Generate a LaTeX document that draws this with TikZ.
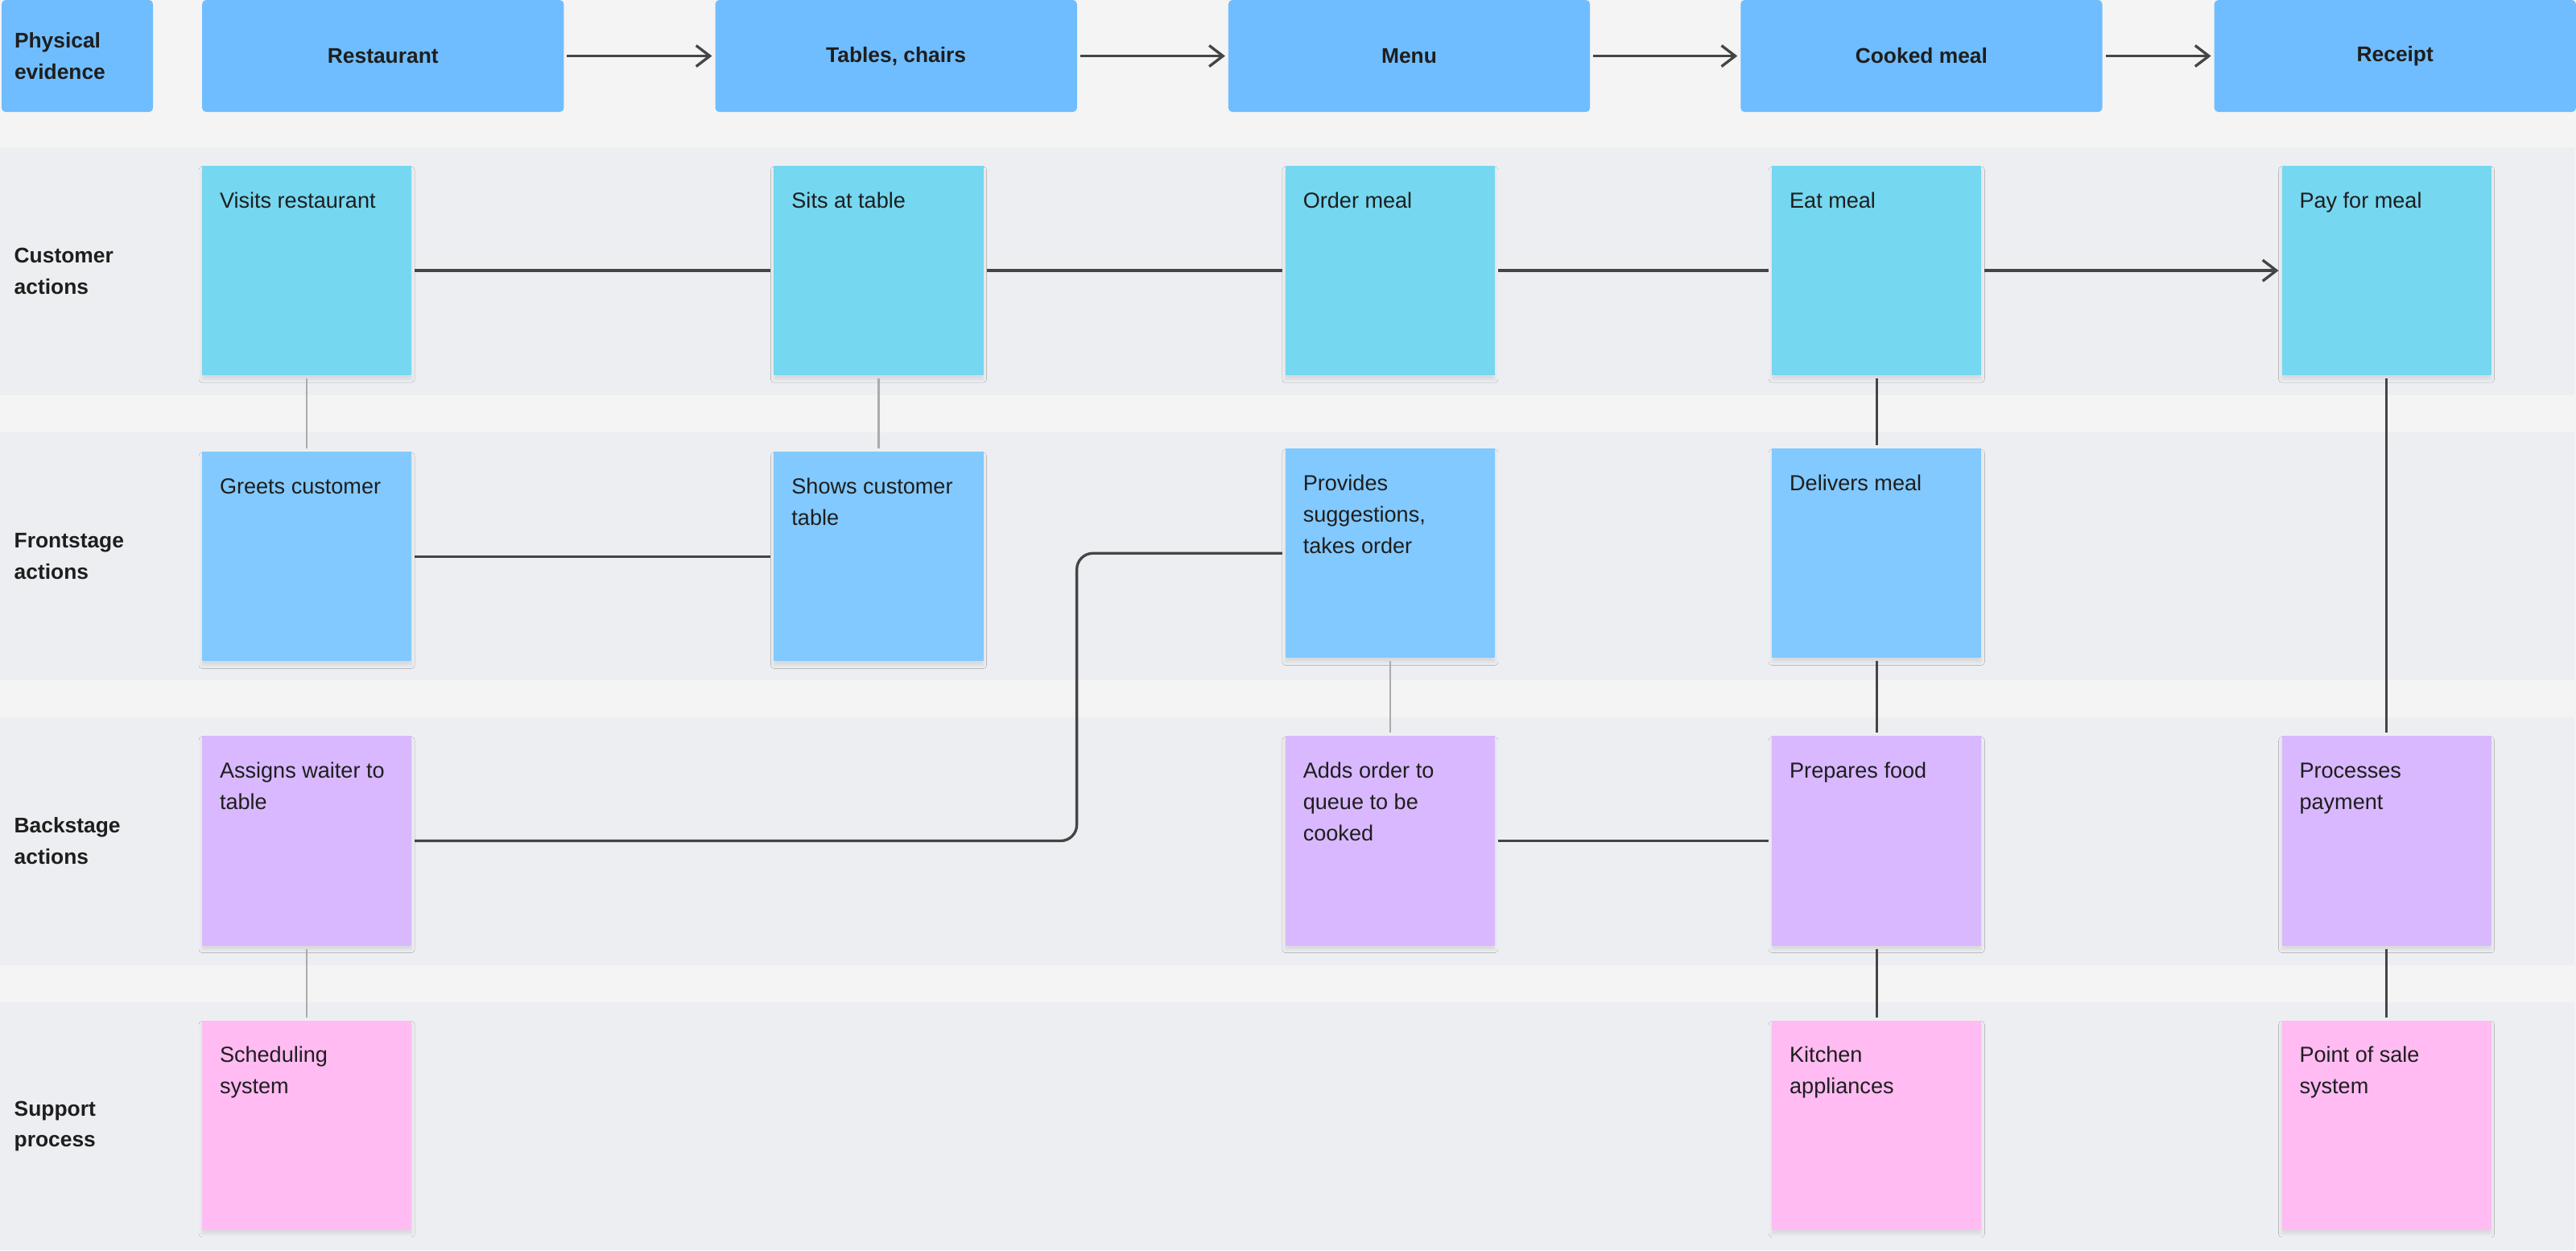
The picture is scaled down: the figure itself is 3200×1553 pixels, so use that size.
\documentclass[tikz,border=0pt]{standalone}
\usepackage{fontspec}
\setmainfont{Liberation Sans}
\usetikzlibrary{arrows.meta,positioning,shadows.blur}

\definecolor{bgcol}{HTML}{F4F4F4}
\definecolor{lanecol}{HTML}{EDEEF1}
\definecolor{evcol}{HTML}{6FBDFF}
\definecolor{custcol}{HTML}{76D7F0}
\definecolor{frontcol}{HTML}{82C9FF}
\definecolor{backcol}{HTML}{D9B8FF}
\definecolor{suppcol}{HTML}{FFBBF2}
\definecolor{linecol}{HTML}{454545}
\definecolor{faintcol}{HTML}{ABABAB}
\definecolor{txtcol}{HTML}{1E1E1E}

\newcommand{\notetxt}[1]{\parbox[c][2.6cm][t]{2.6cm}{\raggedright\setlength{\leftskip}{0.22cm}\rule{0pt}{0.52cm}#1}}

\begin{document}
\begin{tikzpicture}[x=0.01cm,y=0.01cm,>={Straight Barb[length=0.17cm,width=0.26cm]},node distance=0.93cm]
		\tikzstyle{evbox}=[fill=evcol,rounded corners=0.05cm,minimum width=4.49cm,minimum height=1.39cm,inner sep=0pt,outer sep=0pt,text=txtcol,font=\bfseries\fontsize{7.5pt}{11.07pt}\selectfont]
		\tikzstyle{note}=[inner sep=0pt,outer sep=0pt,minimum size=2.6cm,text=txtcol,font=\fontsize{7.7pt}{11.07pt}\selectfont,
			blur shadow={shadow xshift=0pt,shadow yshift=-0.05cm,shadow blur radius=0.04cm,shadow opacity=9}]
		\tikzstyle{cust}=[note,fill=custcol]
		\tikzstyle{front}=[note,fill=frontcol]
		\tikzstyle{back}=[note,fill=backcol]
		\tikzstyle{supp}=[note,fill=suppcol]
		\tikzstyle{lanelbl}=[anchor=west,align=left,inner sep=0pt,text=txtcol,font=\bfseries\fontsize{7.5pt}{11.07pt}\selectfont]
		\tikzstyle{link}=[draw=linecol,line width=0.95pt,shorten <=0.04cm,shorten >=0.04cm]
		\tikzstyle{faint}=[draw=faintcol,line width=0.6pt,shorten <=0.04cm,shorten >=0.04cm]

		% canvas and swimlanes
		\useasboundingbox (0,0) rectangle (3200,-1553);
		\fill[bgcol] (0,0) rectangle (3200,-1553);
		\foreach \top in {183,537,891,1245}
			\fill[lanecol] (0,-\top) rectangle (3198,-\top-308);

		% physical evidence
		\node[evbox,minimum width=1.88cm,anchor=north west,align=left,text width=1.56cm,inner xsep=0.16cm] (evid) at (2,0) {Physical\\evidence};
		\node[evbox] (rest) [right=0.61cm of evid] {Restaurant};
		\node[evbox] (tabl) [right=1.88cm of rest] {Tables, chairs};
		\node[evbox] (menu) [right=1.88cm of tabl] {Menu};
		\node[evbox] (cook) [right=1.87cm of menu] {Cooked meal};
		\node[evbox] (rcpt) [right=1.39cm of cook] {Receipt};

		% lane labels
		\node[lanelbl] (lcust) at (17,-337) {Customer\\actions};
		\node[lanelbl] (lfront) at (17,-691) {Frontstage\\actions};
		\node[lanelbl] (lback) at (17,-1045) {Backstage\\actions};
		\node[lanelbl] (lsupp) at (17,-1399) {Support\\process};

		% customer actions
		\node[cust,anchor=north west] (visit) at (251,-206) {\notetxt{Visits restaurant}};
		\node[cust] (sit) [right=4.5cm of visit] {\notetxt{Sits at table}};
		\node[cust] (order) [right=3.75cm of sit] {\notetxt{Order meal}};
		\node[cust] (eat) [right=3.44cm of order] {\notetxt{Eat meal}};
		\node[cust] (pay) [right=3.73cm of eat] {\notetxt{Pay for meal}};

		% frontstage actions
		\node[front] (greet) [below=0.95cm of visit] {\notetxt{Greets customer}};
		\node[front] (show) [below=0.95cm of sit] {\notetxt{Shows customer\\table}};
		\node[front] (suggest) [below=0.91cm of order] {\notetxt{Provides\\suggestions,\\takes order}};
		\node[front] (deliver) [below=0.91cm of eat] {\notetxt{Delivers meal}};

		% backstage actions
		\node[back] (assign) [below=0.93cm of greet] {\notetxt{Assigns waiter to\\table}};
		\node[back] (queue) [below=0.97cm of suggest] {\notetxt{Adds order to\\queue to be\\cooked}};
		\node[back] (prepare) [below=0.97cm of deliver] {\notetxt{Prepares food}};
		\node[back] (process) [below=4.48cm of pay] {\notetxt{Processes\\payment}};

		% support process
		\node[supp] (sched) [below=0.93cm of assign] {\notetxt{Scheduling\\system}};
		\node[supp] (kitchen) [below=0.93cm of prepare] {\notetxt{Kitchen\\appliances}};
		\node[supp] (pos) [below=0.93cm of process] {\notetxt{Point of sale\\system}};

		\path[link,->]
		(rest) edge (tabl)
		(tabl) edge (menu)
		(menu) edge (cook)
		(cook) edge (rcpt);

		\path[link]
		(visit) edge (sit)
		(sit) edge (order)
		(order) edge (eat)
		(eat) edge [->] (pay)
		(greet) edge (show)
		(queue) edge (prepare)
		(eat) edge (deliver)
		(deliver) edge (prepare)
		(prepare) edge (kitchen)
		(pay) edge (process)
		(process) edge (pos);
		\draw[link,rounded corners=0.2cm] (suggest.west) -- ++(-2.59cm,0) |- (assign.east);

		\path[faint]
		(visit) edge (greet)
		(sit) edge (show)
		(suggest) edge (queue)
		(assign) edge (sched);
	\end{tikzpicture}
\end{document}
